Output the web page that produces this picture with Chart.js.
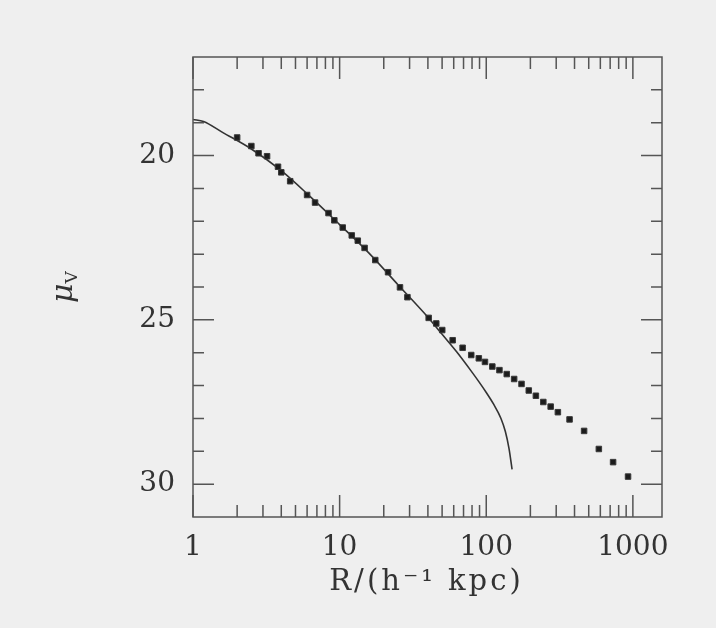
<!DOCTYPE html>
<html><head><meta charset="utf-8">
<script src="https://cdn.jsdelivr.net/npm/chart.js@4/dist/chart.umd.min.js"></script>
<style>html,body{margin:0;padding:0;background:#efefef;}#wrap{width:716px;height:628px;}</style>
</head><body><div id="wrap"><canvas id="c" width="716" height="628"></canvas></div>
<script>
// Observed surface brightness profile (squares)
const dataR  = [2.0, 2.5, 2.8, 3.2, 3.8, 4.0, 4.6, 6.0, 6.8, 8.4, 9.2, 10.5, 12.1, 13.3, 14.8, 17.5, 21.4, 25.8, 29.0,
                40.5, 45.6, 50.1, 59, 69, 79, 89, 98, 110, 123, 138, 155, 174, 195, 218, 245, 275, 308, 370, 465, 586, 733, 927];
const dataMu = [19.45, 19.71, 19.93, 20.02, 20.34, 20.51, 20.78, 21.20, 21.43, 21.75, 21.97, 22.19, 22.43, 22.59, 22.81, 23.18, 23.55, 24.01, 24.31,
                24.94, 25.11, 25.31, 25.62, 25.85, 26.07, 26.17, 26.28, 26.42, 26.53, 26.65, 26.80, 26.95, 27.15, 27.31, 27.50, 27.64, 27.81, 28.03, 28.38, 28.93, 29.33, 29.77];
// Model curve (solid line)
const fitR  = [1.0, 1.18, 1.6, 2.5, 4.0, 6.3, 10, 15.8, 25, 40, 50, 63, 79, 89, 100, 112, 126, 135, 143, 150];
const fitMu = [18.90, 18.96, 19.30, 19.80, 20.46, 21.25, 22.10, 22.96, 23.93, 24.92, 25.44, 25.98, 26.56, 26.88, 27.21, 27.56, 28.00, 28.40, 28.92, 29.55];
// Axes
const xTickLabels = [1, 10, 100, 1000];
const xMinorTicks = [2,3,4,5,6,7,8,9,20,30,40,50,60,70,80,90,200,300,400,500,600,700,800,900];
const yTickLabels = [20, 25, 30];
const yMinorTicks = [18,19,21,22,23,24,26,27,28,29];
const xTitle = 'R/(h⁻¹ kpc)';

const FONT = 'DejaVu Serif';
const TXT = '#333333';

const framePlugin = {
  id: 'frame',
  beforeDraw(chart) {
    const c = chart.ctx;
    c.save(); c.fillStyle = '#efefef'; c.fillRect(0, 0, chart.width, chart.height); c.restore();
  },
  afterDraw(chart) {
    const c = chart.ctx, a = chart.chartArea, x = chart.scales.x, y = chart.scales.y;
    c.save();
    c.strokeStyle = '#555555'; c.lineWidth = 1.5;
    c.strokeRect(a.left, a.top, a.right - a.left, a.bottom - a.top);
    c.beginPath();
    const xt = (v, len) => { const p = x.getPixelForValue(v);
      c.moveTo(p, a.bottom); c.lineTo(p, a.bottom - len);
      c.moveTo(p, a.top); c.lineTo(p, a.top + len); };
    const yt = (v, len) => { const p = y.getPixelForValue(v);
      c.moveTo(a.left, p); c.lineTo(a.left + len, p);
      c.moveTo(a.right, p); c.lineTo(a.right - len, p); };
    xTickLabels.forEach(v => xt(v, 22));
    xMinorTicks.forEach(v => xt(v, 12));
    yTickLabels.forEach(v => yt(v, 21));
    yMinorTicks.forEach(v => yt(v, 11));
    c.stroke();
    c.fillStyle = TXT;
    // x-axis title
    c.save();
    c.font = '29px ' + FONT;
    try { c.letterSpacing = '3px'; } catch (e) {}
    c.textAlign = 'center'; c.textBaseline = 'alphabetic';
    c.fillText(xTitle, (a.left + a.right) / 2 - 1, 590);
    c.restore();
    // y-axis title: mu with subscript V
    c.translate(72, 287);
    c.rotate(-Math.PI / 2);
    c.textBaseline = 'alphabetic';
    c.font = 'italic 30px ' + FONT;
    const wMu = c.measureText('μ').width;
    c.font = '17px ' + FONT;
    const wV = c.measureText('V').width;
    const x0 = -(wMu + wV) / 2;
    c.font = 'italic 30px ' + FONT;
    c.fillText('μ', x0, 0);
    c.font = '17px ' + FONT;
    c.fillText('V', x0 + wMu, 5);
    c.restore();
  }
};

new Chart(document.getElementById('c'), {
  type: 'scatter',
  data: {
    datasets: [
      { data: dataR.map((r, i) => ({ x: r, y: dataMu[i] })),
        pointStyle: 'rect', pointRadius: 3.9, backgroundColor: '#1c1c1c', borderColor: '#3a3a3a', borderWidth: 1 },
      { data: fitR.map((r, i) => ({ x: r, y: fitMu[i] })), showLine: true,
        pointRadius: 0, borderColor: '#333333', borderWidth: 1.6, cubicInterpolationMode: 'monotone', fill: false }
    ]
  },
  options: {
    responsive: false, animation: false,
    layout: { padding: { top: 57, right: 54, left: 0, bottom: 0 } },
    plugins: { legend: { display: false }, tooltip: { enabled: false } },
    scales: {
      x: {
        type: 'logarithmic', min: 1, max: 1580,
        afterBuildTicks: s => { s.ticks = xTickLabels.map(v => ({ value: v })); },
        afterFit: s => { s.height = 111; },
        grid: { display: false, drawTicks: false }, border: { display: false },
        ticks: { callback: v => String(v), font: { family: FONT, size: 28 }, color: TXT, padding: 14, maxRotation: 0, autoSkip: false },
        title: { display: false }
      },
      y: {
        type: 'linear', reverse: true, min: 17, max: 31,
        afterBuildTicks: s => { s.ticks = yTickLabels.map(v => ({ value: v })); },
        afterFit: s => { s.width = 193; },
        grid: { display: false, drawTicks: false }, border: { display: false },
        ticks: { callback: v => String(v), font: { family: FONT, size: 28 }, color: TXT, padding: 18 }
      }
    }
  },
  plugins: [framePlugin]
});
</script>
</body></html>
